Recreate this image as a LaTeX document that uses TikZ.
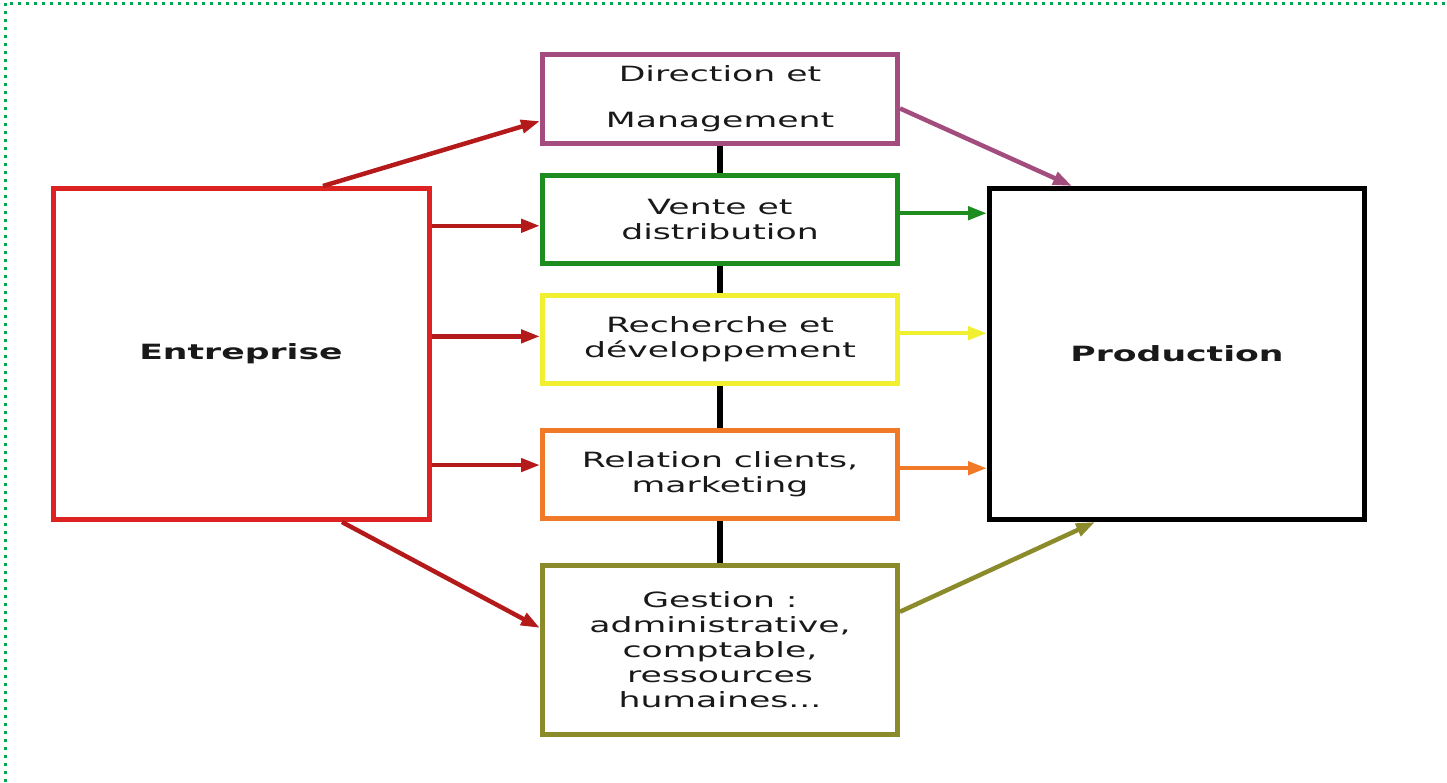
\documentclass[tikz,border=0pt]{standalone}
\usepackage{fontspec}
\newfontfamily\boxfont[FakeStretch=1.65]{DejaVu Sans}
\usetikzlibrary{arrows.meta,positioning}
\definecolor{entred}{HTML}{DD2222}
\definecolor{arrred}{HTML}{B51A1A}
\definecolor{dirmauve}{HTML}{A24D7E}
\definecolor{vengreen}{HTML}{1E8C1E}
\definecolor{recyellow}{HTML}{F0F030}
\definecolor{relorange}{HTML}{F07A28}
\definecolor{gesolive}{HTML}{8B8B2B}
\definecolor{framegreen}{HTML}{00A651}

\begin{document}
\begin{tikzpicture} [x=1pt, y=-1pt, line width=4.5pt,
          box/.style={draw, rectangle, line width=5pt, minimum width=355pt, minimum
            height=88pt, inner sep=0, align=center, text=black!90,
            font=\boxfont\fontsize{21}{25}\selectfont},
          bigbox/.style={box, minimum width=376pt, minimum height=331pt,
            font=\boxfont\bfseries\fontsize{21}{25}\selectfont},
          arr/.style={-{Triangle[length=19pt,width=13pt]}},
          link/.style={draw=black, line width=6pt}]
  \useasboundingbox (0,0) rectangle (1447,782);
  \draw[framegreen, line width=3pt, dash pattern=on 3pt off 5pt] (5,782) -- (5,3) -- (1447,3);

  \node[bigbox, draw=entred] (ent) at (241,354) {Entreprise};
  \node[bigbox, draw=black, minimum width=375pt] (prod) at (1177,354) {Production};

  \node[box, draw=dirmauve, minimum height=89pt] (dir) at (720,99) {Direction et\\[21pt]Management};
  \node[box, draw=vengreen] (ven) at (720,219.5) {Vente et\\distribution};
  \node[box, draw=recyellow] (rec) at (720,339.5) {Recherche et\\développement};
  \node[box, draw=relorange] (rel) at (720,474.5) {Relation clients,\\marketing};
  \node[box, draw=gesolive, minimum height=169pt] (ges) at (720,650) {Gestion :\\administrative,\\comptable,\\ressources\\humaines...};

  \draw[link] (dir.south) -- (ven.north);
  \draw[link] (ven.south) -- (rec.north);
  \draw[link] (rec.south) -- (rel.north);
  \draw[link] (rel.south) -- (ges.north);

  \draw[arr, arrred] (ent.64) -- (dir.187);
  \draw[arr, arrred] (ent.east |- ven.182) -- (ven.182);
  \draw[arr, arrred] (ent.east |- rec.179) -- (rec.179);
  \draw[arr, arrred] (ent.east |- rel.177) -- (rel.177);
  \draw[arr, arrred] (ent.-59) -- (ges.173);

  \draw[arr, dirmauve] (dir.-3) -- (prod.122);
  \draw[arr, vengreen] (ven.2) -- (prod.west |- ven.2);
  \draw[arr, recyellow] (rec.2) -- (prod.west |- rec.2);
  \draw[arr, relorange] (rel.2) -- (prod.west |- rel.2);
  \draw[arr, gesolive] (ges.12) -- (prod.244);
\end{tikzpicture}
\end{document}
